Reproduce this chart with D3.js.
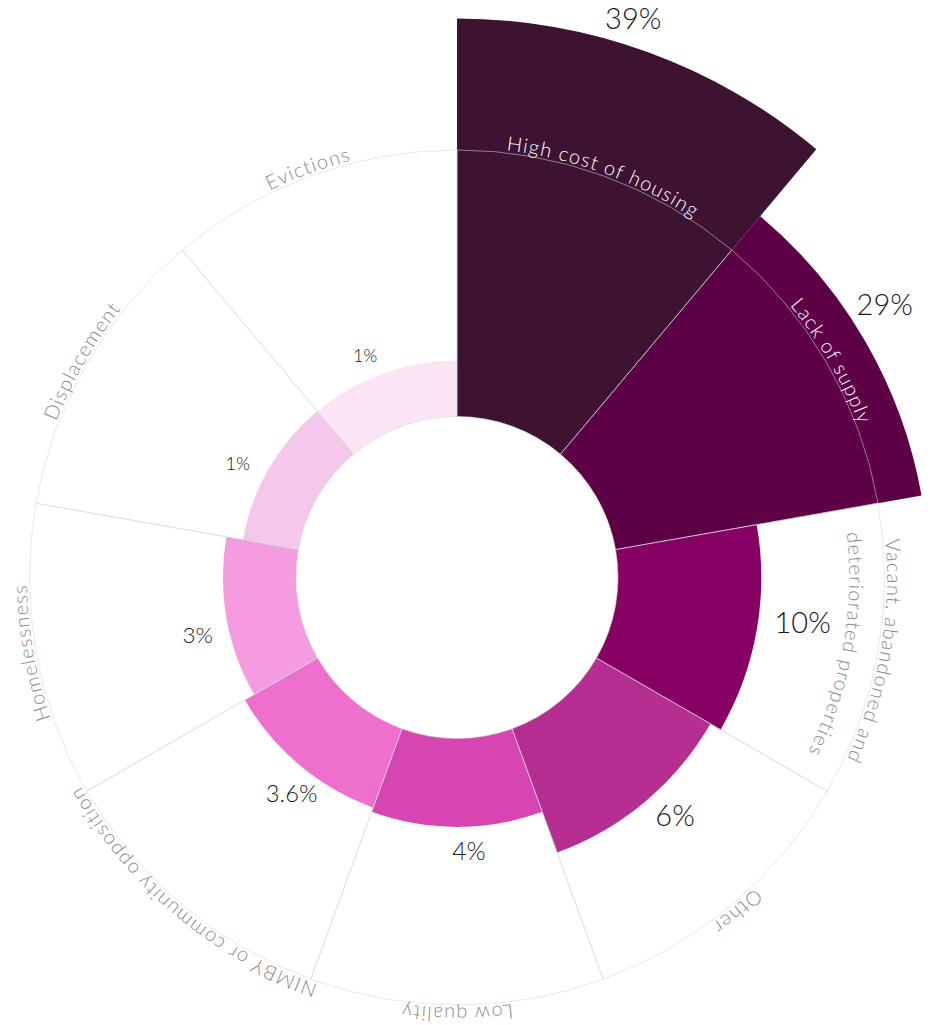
<!DOCTYPE html>
<html>
<head>
<meta charset="utf-8">
<script src="https://cdn.jsdelivr.net/npm/d3@7"></script>
<style>
  body { margin: 0; background: #fff; }
  text { font-family: Lato, "Open Sans", sans-serif; font-weight: 300; }
</style>
</head>
<body>
<svg id="chart"></svg>
<script>
// categories, clockwise from 12 o'clock
var categories = ["High cost of housing", "Lack of supply", "Vacant, abandoned and deteriorated properties",
                  "Other", "Low quality", "NIMBY or community opposition", "Homelessness",
                  "Displacement", "Evictions"];
var labelLines = [["High cost of housing"], ["Lack of supply"], ["Vacant, abandoned and", "deteriorated properties"],
                  ["Other"], ["Low quality"], ["NIMBY or community opposition"], ["Homelessness"],
                  ["Displacement"], ["Evictions"]];
// bar length
var barValues = [39, 29.3, 10.7, 9.4, 4.6, 4.1, 2.9, 1.05, 1.0];
// the printed shares
var shares = [39, 29, 10, 6, 4, 3.6, 3, 1, 1];
var colours = ["#3e1331", "#5e0045", "#870063", "#b72e93", "#d645b2", "#ee6fcd", "#f59be0", "#f5c7eb", "#fbe4f4"];

var width = 951, height = 1025,
    cx = 457, cy = 577.5,
    innerRadius = 161, gridRadius = 427.5, labelRadius = 430;

var svg = d3.select("#chart")
    .attr("width", width)
    .attr("height", height)
    .append("g")
    .attr("transform", "translate(" + cx + "," + cy + ")");

var x = d3.scaleBand().domain(categories).range([0, 2 * Math.PI]);
var y = d3.scaleLinear().domain([0, 39]).range([208, 559]);
var fontSize = d3.scaleLinear().domain([1, 6]).range([18, 29]).clamp(true);

function mid(d) { return x(d) + x.bandwidth() / 2; }

var barArc = d3.arc()
    .innerRadius(innerRadius)
    .outerRadius(function(d, i) { return y(barValues[i]); })
    .startAngle(function(d) { return x(d); })
    .endAngle(function(d) { return x(d) + x.bandwidth(); });

var gridArc = d3.arc()
    .innerRadius(innerRadius)
    .outerRadius(gridRadius)
    .startAngle(function(d) { return x(d); })
    .endAngle(function(d) { return x(d) + x.bandwidth(); });

// bars
svg.selectAll(".bar")
    .data(categories)
    .enter()
    .append("path")
    .attr("class", "bar")
    .attr("d", barArc)
    .attr("fill", function(d, i) { return colours[i]; });

// grid wedges, drawn on top so they show faintly through the bars
svg.selectAll(".grid")
    .data(categories)
    .enter()
    .append("path")
    .attr("class", "grid")
    .attr("d", gridArc)
    .attr("fill", "none")
    .attr("stroke", "#cdd8dc")
    .attr("stroke-opacity", 0.55)
    .attr("stroke-width", 1);

// curved category labels
var defs = svg.append("defs");
categories.forEach(function(d, i) {
    labelLines[i].forEach(function(line, j) {
        var r = labelRadius - j * 38;
        var a = mid(d) - Math.PI / 2;
        var p = d3.path();
        p.arc(0, 0, r, a - Math.PI / 2, a + Math.PI / 2);
        defs.append("path").attr("id", "lp-" + i + "-" + j).attr("d", p.toString());
        var inside = y(barValues[i]) > r + 15;
        svg.append("text")
            .style("font-size", "20px")
            .style("letter-spacing", "1.2px")
            .attr("fill", inside ? "#ffffff" : "#8c8c8c")
            .append("textPath")
            .attr("href", "#lp-" + i + "-" + j)
            .attr("startOffset", "50%")
            .attr("text-anchor", "middle")
            .text(line);
    });
});

// percentage labels, pushed just clear of each bar end
svg.selectAll(".pct")
    .data(categories)
    .enter()
    .append("text")
    .attr("class", "pct")
    .attr("text-anchor", "middle")
    .attr("fill", "#1a1a1a")
    .style("font-size", function(d, i) { return fontSize(shares[i]) + "px"; })
    .text(function(d, i) { return shares[i] + "%"; })
    .each(function(d, i) {
        var fs = fontSize(shares[i]);
        var w = this.getBBox().width / 2, h = fs * 0.36;
        var t = mid(d) - 2.5 * Math.PI / 180;
        var s = Math.abs(Math.sin(t)) || 1e-6, c = Math.abs(Math.cos(t)) || 1e-6;
        var r = y(barValues[i]) + 16 + Math.min(w / s, h / c);
        d3.select(this)
            .attr("x", r * Math.sin(t))
            .attr("y", -r * Math.cos(t) + h);
    });
</script>
</body>
</html>
